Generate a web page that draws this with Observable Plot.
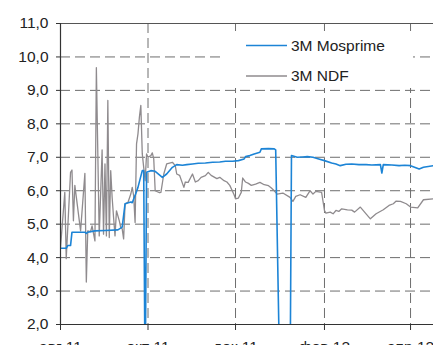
<!DOCTYPE html>
<html>
<head>
<meta charset="utf-8">
<script src="https://cdn.jsdelivr.net/npm/d3@7"></script>
<script src="https://cdn.jsdelivr.net/npm/@observablehq/plot@0.6"></script>
<style>
  html, body { margin: 0; padding: 0; background: #fff; }
  #chart { width: 433px; height: 345px; overflow: hidden; }
</style>
</head>
<body>
<div id="chart"></div>
<script>
// 3M Mosprime (money-market rate), %; 0 marks days with no fixing
const mosDates = [
  "2011-08-01","2011-08-05","2011-08-06","2011-08-08","2011-08-09","2011-08-18","2011-08-19","2011-08-20",
  "2011-08-25","2011-09-01","2011-09-10","2011-09-13","2011-09-15","2011-09-19","2011-09-20","2011-09-22",
  "2011-09-24","2011-09-27","2011-09-28","2011-09-29","2011-09-30","2011-10-03","2011-10-06","2011-10-11",
  "2011-10-14","2011-10-18","2011-10-21","2011-10-25","2011-10-28","2011-11-01","2011-11-05","2011-11-10",
  "2011-11-15","2011-11-20","2011-11-24","2011-11-29","2011-12-03","2011-12-07","2011-12-08","2011-12-11",
  "2011-12-14","2011-12-18","2011-12-19","2011-12-24","2011-12-28","2011-12-29","2012-01-01","2012-01-08",
  "2012-01-09","2012-01-13","2012-01-17","2012-01-20","2012-01-24","2012-01-28","2012-02-01","2012-02-06",
  "2012-02-09","2012-02-12","2012-02-16","2012-02-20","2012-02-25","2012-03-01","2012-03-05","2012-03-11",
  "2012-03-12","2012-03-13","2012-03-19","2012-03-24","2012-03-28","2012-04-01","2012-04-07","2012-04-10",
  "2012-04-17"
];
const mosValues = [
  4.28,4.28,4.36,4.36,4.76,4.76,4.72,4.76,
  4.80,4.81,4.83,4.91,5.61,5.66,5.64,5.86,
  6.10,6.60,6.60,0.00,6.55,6.60,6.58,6.40,
  6.50,6.70,6.78,6.76,6.78,6.80,6.82,6.83,
  6.85,6.86,6.88,6.88,6.90,6.95,7.02,7.05,
  7.10,7.15,7.25,7.26,7.25,7.22,0.00,0.00,
  7.05,7.00,7.01,7.02,7.00,6.95,6.90,6.83,
  6.80,6.75,6.79,6.80,6.78,6.78,6.77,6.78,
  6.53,6.78,6.77,6.75,6.76,6.75,6.65,6.70,
  6.75
];

// 3M NDF (implied RUB yield), %
const ndfDates = [
  "2011-08-01","2011-08-04","2011-08-05","2011-08-08","2011-08-09","2011-08-10","2011-08-11","2011-08-15",
  "2011-08-18","2011-08-19","2011-08-20","2011-08-22","2011-08-23","2011-08-25","2011-08-26","2011-08-28",
  "2011-08-30","2011-08-31","2011-09-01","2011-09-02","2011-09-03","2011-09-04","2011-09-05","2011-09-06",
  "2011-09-07","2011-09-08","2011-09-09","2011-09-11","2011-09-12","2011-09-13","2011-09-14","2011-09-15",
  "2011-09-17","2011-09-19","2011-09-20","2011-09-21","2011-09-22","2011-09-23","2011-09-24","2011-09-25",
  "2011-09-26","2011-09-27","2011-09-28","2011-09-29","2011-09-30","2011-10-01","2011-10-03","2011-10-04",
  "2011-10-05","2011-10-06","2011-10-09","2011-10-10","2011-10-12","2011-10-14","2011-10-18","2011-10-20",
  "2011-10-21","2011-10-23","2011-10-26","2011-10-27","2011-10-29","2011-11-01","2011-11-03","2011-11-05",
  "2011-11-07","2011-11-10","2011-11-12","2011-11-14","2011-11-18","2011-11-20","2011-11-23","2011-11-25",
  "2011-11-27","2011-11-30","2011-12-01","2011-12-03","2011-12-05","2011-12-06","2011-12-08","2011-12-10",
  "2011-12-12","2011-12-15","2011-12-18","2011-12-21","2011-12-24","2011-12-26","2011-12-28","2011-12-30",
  "2012-01-03","2012-01-08","2012-01-10","2012-01-12","2012-01-15","2012-01-19","2012-01-22","2012-01-24",
  "2012-01-26","2012-01-30","2012-02-01","2012-02-02","2012-02-05","2012-02-07","2012-02-09","2012-02-11",
  "2012-02-13","2012-02-17","2012-02-20","2012-02-22","2012-02-26","2012-03-01","2012-03-04","2012-03-08",
  "2012-03-13","2012-03-17","2012-03-20","2012-03-22","2012-03-25","2012-03-29","2012-04-01","2012-04-06",
  "2012-04-10","2012-04-17"
];
const ndfValues = [
  4.30,5.95,3.97,6.55,6.62,5.10,6.16,4.80,
  6.52,3.27,4.80,4.78,4.95,4.50,9.68,4.65,
  7.22,4.70,6.80,4.65,8.70,4.60,6.60,5.80,
  5.20,4.65,5.40,5.10,4.90,4.86,4.56,5.60,
  5.65,5.90,6.10,5.85,5.05,7.40,7.70,8.20,
  8.55,7.10,6.70,6.30,7.10,7.00,7.05,7.13,
  6.95,6.00,5.94,5.95,6.50,6.80,6.85,6.75,
  6.50,6.46,6.10,6.26,6.25,6.50,6.26,6.30,
  6.40,6.45,6.55,6.46,6.36,6.40,6.30,6.26,
  6.16,5.88,5.76,5.78,5.95,6.38,6.26,6.22,
  6.16,6.20,6.25,6.18,6.15,6.08,6.00,5.90,
  5.93,5.80,5.68,5.83,5.88,5.80,6.00,5.90,
  5.98,5.95,5.41,5.33,5.36,5.31,5.41,5.38,
  5.46,5.43,5.42,5.36,5.51,5.31,5.16,5.31,
  5.43,5.56,5.61,5.69,5.68,5.61,5.51,5.49,
  5.73,5.76
];

// Axis ticks and labels
const xTickDates = ["2011-08-01","2011-10-01","2011-12-01","2012-02-01","2012-04-01"];
const xTickLabels = ["авг 11","окт 11","дек 11","фев 12","апр 12"];
const yTicks = [2, 3, 4, 5, 6, 7, 8, 9, 10, 11];
const xDomain = ["2011-08-01","2012-04-17"];

const seriesNames = ["3M Mosprime", "3M NDF"];
const seriesColors = ["#1c84d6", "#8f8b8e"];

const parse = d3.utcParse("%Y-%m-%d");
const mos = mosDates.map((d, i) => ({date: parse(d), value: mosValues[i]}));
const ndf = ndfDates.map((d, i) => ({date: parse(d), value: ndfValues[i]}));
const ticks = xTickDates.map(parse);
const labelOf = new Map(ticks.map((t, i) => [+t, xTickLabels[i]]));

const gridStyle = {stroke: "#6e6e6e", strokeOpacity: 1, strokeWidth: 1, strokeDasharray: "10,5"};

const chart = Plot.plot({
  width: 433,
  height: 345,
  marginLeft: 60,
  marginRight: 0,
  marginTop: 23,
  marginBottom: 21,
  style: {fontFamily: "'Liberation Sans', Arial, sans-serif", fontSize: "15.5px", color: "#222", background: "#fff", overflow: "visible"},
  x: {type: "utc", domain: xDomain.map(parse), label: null},
  y: {domain: [2, 11], label: null},
  marks: [
    Plot.gridY(yTicks.slice(1, -1), gridStyle),
    Plot.gridX(ticks.slice(1), gridStyle),
    Plot.line(ndf, {x: "date", y: "value", stroke: seriesColors[1], strokeWidth: 1.3, clip: true}),
    Plot.line(mos, {x: "date", y: "value", stroke: seriesColors[0], strokeWidth: 1.6, clip: true}),
    Plot.ruleY([11], {stroke: "#555", strokeWidth: 1}),
    Plot.ruleY([2], {stroke: "#333", strokeWidth: 1.2}),
    Plot.ruleX([ticks[0]], {stroke: "#333", strokeWidth: 1.2}),
    Plot.axisY({ticks: yTicks, tickSize: 4, tickPadding: 8, tickFormat: d => d.toFixed(1).replace(".", ","), fontSize: 15.5, stroke: "#333", label: null}),
    Plot.axisX({ticks: ticks, tickSize: 6, tickPadding: 10, tickFormat: d => labelOf.get(+d), fontSize: 15.5, stroke: "#333", label: null})
  ]
});

document.getElementById("chart").append(chart);

// Legend box in the upper right of the plot area
const svg = d3.select(chart);
const legend = svg.append("g")
  .attr("font-family", "'Liberation Sans', Arial, sans-serif")
  .attr("font-size", 15.5)
  .attr("fill", "#222")
  .attr("text-anchor", "start");
legend.append("rect").attr("x", 222).attr("y", 31).attr("width", 191).attr("height", 57).attr("fill", "#fff");
seriesNames.forEach((name, i) => {
  const y = 45.5 + i * 30.5;
  legend.append("line").attr("x1", 246).attr("x2", 287).attr("y1", y).attr("y2", y)
    .attr("stroke", seriesColors[i]).attr("stroke-width", i === 0 ? 1.6 : 1.3);
  legend.append("text").attr("x", 291).attr("y", y).attr("dy", "0.35em").text(name);
});
</script>
</body>
</html>
